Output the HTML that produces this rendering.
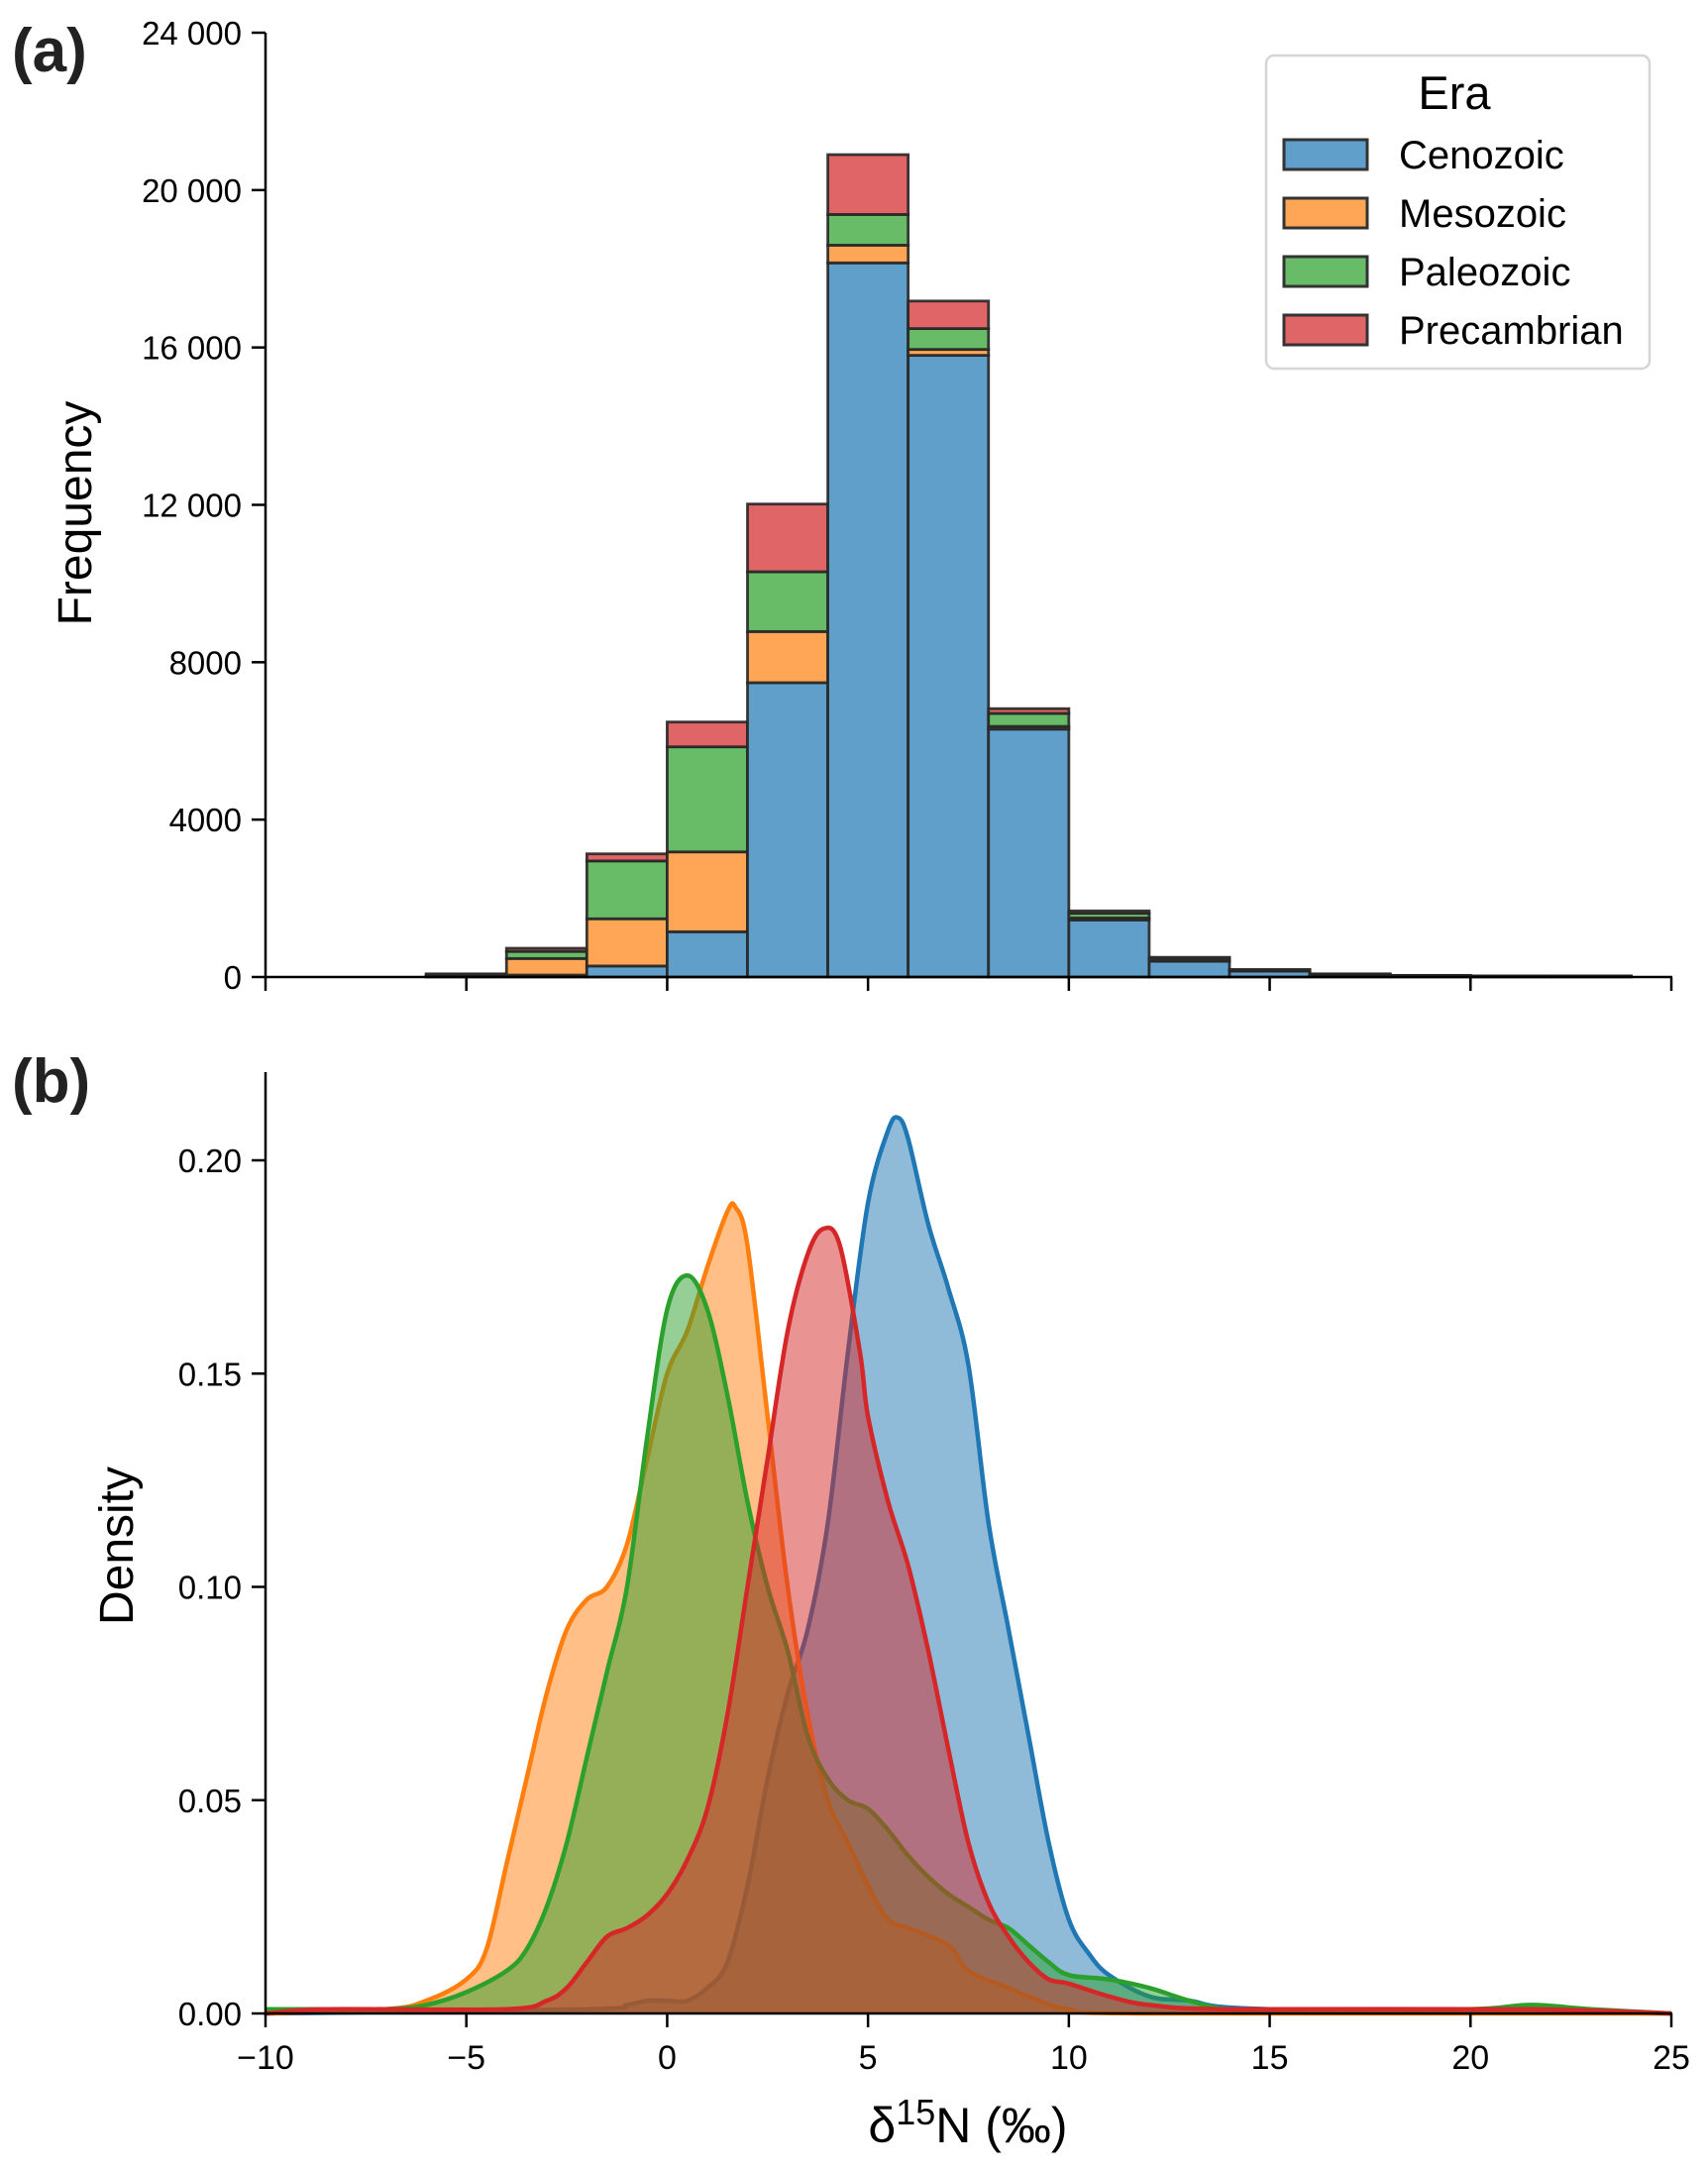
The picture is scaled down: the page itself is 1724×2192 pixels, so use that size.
<!DOCTYPE html>
<html><head><meta charset="utf-8"><style>
html,body{margin:0;padding:0;background:#fff}
svg{display:block;font-family:"Liberation Sans",sans-serif}
</style></head><body>
<svg id="chart" width="1724" height="2192" viewBox="0 0 1724 2192" xmlns="http://www.w3.org/2000/svg">
<g id="topPanel"></g>
<g id="botPanel"></g>
</svg>
<script>
const eras = ["Cenozoic","Mesozoic","Paleozoic","Precambrian"];
const binStarts = [-6,-4,-2,0,2,4,6,8,10,12,14,16,18,20,22];
const cenozoicCounts   = [20,50,280,1150,7480,18150,15800,6300,1450,400,150,60,30,20,20];
const mesozoicCounts   = [20,420,1200,2030,1300,450,150,70,50,20,10,5,3,2,2];
const paleozoicCounts  = [20,180,1470,2670,1520,780,530,330,120,60,20,10,5,3,3];
const precambrianCounts= [20,80,180,630,1720,1520,700,120,60,20,10,5,3,2,2];
const freqTicks = [0,4000,8000,12000,16000,20000,24000];
const freqTickLabels = ["0","4000","8000","12 000","16 000","20 000","24 000"];
const xTicks = [-10,-5,0,5,10,15,20,25];
const xTickLabels = ["\u221210","\u22125","0","5","10","15","20","25"];
const densTicks = [0,0.05,0.10,0.15,0.20];
const densTickLabels = ["0.00","0.05","0.10","0.15","0.20"];
const cenoX = [-10,-2,-1,-0.5,0,0.5,1,1.5,2,2.5,3,3.5,4,4.5,5,5.5,5.75,6,6.5,7,7.5,8,8.5,9,9.5,10,10.5,11,12,13,15,25];
const cenoY = [0,0.001,0.002,0.003,0.003,0.003,0.006,0.012,0.03,0.055,0.075,0.09,0.115,0.155,0.19,0.207,0.21,0.205,0.185,0.17,0.152,0.115,0.09,0.065,0.04,0.022,0.014,0.009,0.004,0.003,0.001,0];
const mesoX = [-10,-7,-6,-5,-4.5,-4,-3.5,-3,-2.5,-2,-1.5,-1,-0.5,0,0.5,1,1.5,1.7,2,2.5,3,3.5,4,4.5,5,5.5,6,7,7.5,8.5,9,10,12,25];
const mesoY = [0,0.001,0.003,0.008,0.015,0.035,0.055,0.075,0.09,0.097,0.1,0.11,0.13,0.15,0.16,0.175,0.188,0.189,0.18,0.14,0.1,0.07,0.05,0.04,0.03,0.022,0.02,0.016,0.01,0.006,0.004,0.001,0,0];
const paleoX = [-10,-8.5,-7,-6,-5,-4,-3.5,-3,-2.5,-2,-1.5,-1,-0.5,0,0.5,1,1.5,2,2.5,3,3.5,4,4.5,5,5.5,6,6.5,7,7.5,8,8.5,9,9.5,10,11,12,13,14,16,20,21.5,23,25];
const paleoY = [0.001,0.001,0.001,0.002,0.005,0.01,0.015,0.025,0.04,0.06,0.08,0.1,0.135,0.165,0.173,0.165,0.145,0.12,0.1,0.085,0.065,0.055,0.05,0.048,0.043,0.037,0.032,0.028,0.025,0.022,0.02,0.016,0.012,0.009,0.008,0.006,0.003,0.001,0.001,0.001,0.002,0.001,0];
const preX = [-10,-8.5,-4,-3,-2.5,-2,-1.5,-1,-0.5,0,0.5,1,1.5,2,2.5,3,3.5,3.9,4.3,4.8,5,5.5,6,6.5,7,7.5,8,8.5,9,9.5,10,11,12,14,21.5,25];
const preY = [0,0.001,0.001,0.003,0.006,0.012,0.018,0.02,0.023,0.028,0.036,0.048,0.07,0.1,0.13,0.16,0.178,0.184,0.18,0.155,0.14,0.12,0.105,0.085,0.062,0.04,0.026,0.018,0.012,0.008,0.007,0.004,0.002,0.001,0.001,0];

const NS="http://www.w3.org/2000/svg";
function mk(tag, attrs, parent){const e=document.createElementNS(NS,tag);for(const k in attrs)e.setAttribute(k,attrs[k]);parent.appendChild(e);return e;}
const X0=268, X1=1687;
const xs = v => X0 + (v+10)/35*(X1-X0);
const yTop = v => 986 - v/24000*953;
const yBot = v => 2032 - v/0.2*861;
const topG=document.getElementById('topPanel'), botG=document.getElementById('botPanel');
const fillC=["#619fcb","#ffa556","#68bc67","#e06567"];
const lineC=["#1f77b4","#ff7f0e","#2ca02c","#d62728"];

const series=[cenozoicCounts,mesozoicCounts,paleozoicCounts,precambrianCounts];
binStarts.forEach((b,i)=>{
  let base=0;
  series.forEach((s,j)=>{
    const v=s[i];
    const r=mk('rect',{x:xs(b),y:yTop(base+v),width:xs(b+2)-xs(b),height:yTop(base)-yTop(base+v),fill:fillC[j],stroke:"#262626","stroke-width":2.8,"stroke-opacity":0.9},topG);
    
    
    base+=v;
  });
});
let ax=mk('line',{x1:X0,y1:33,x2:X0,y2:988,stroke:"#000","stroke-width":2.5},topG);


ax=mk('line',{x1:X0-1,y1:986,x2:X1+1,y2:986,stroke:"#000","stroke-width":2.5},topG);


freqTicks.forEach((t,i)=>{
  mk('line',{x1:X0-14,y1:yTop(t),x2:X0,y2:yTop(t),stroke:"#000","stroke-width":2.5},topG);
  const tx=mk('text',{x:X0-24,y:yTop(t)+12,"text-anchor":"end","font-size":33},topG);
  tx.textContent=freqTickLabels[i];
  
  
});
xTicks.forEach(t=>{mk('line',{x1:xs(t),y1:986,x2:xs(t),y2:1000,stroke:"#000","stroke-width":2.5},topG);});
let t=mk('text',{x:0,y:0,transform:"translate(92,518) rotate(-90)","text-anchor":"middle","font-size":48},topG);
t.textContent="Frequency";


t=mk('text',{x:12,y:72,"font-size":62,"font-weight":"bold",fill:"#222"},topG);
t.textContent="(a)";



const lg=mk('g',{},topG);


mk('rect',{x:1278,y:56,width:387,height:316,rx:8,fill:"#fff",stroke:"#d5d5d5","stroke-width":2.5},lg);
t=mk('text',{x:1468,y:110,"text-anchor":"middle","font-size":47},lg);
t.textContent="Era";


eras.forEach((e,j)=>{
  const cy=156+j*59;
  const p=mk('rect',{x:1296,y:cy-15,width:84,height:30,fill:fillC[j],stroke:"#333","stroke-width":3},lg);
  
  
  const lt=mk('text',{x:1412,y:cy+14,"font-size":40},lg);
  lt.textContent=e;
  
  
});

const kx=[cenoX,mesoX,paleoX,preX], ky=[cenoY,mesoY,paleoY,preY];
function smoothPath(j){
  const P=kx[j].map((x,i)=>[xs(x),yBot(ky[j][i])]);
  let d="M"+P[0][0].toFixed(1)+","+P[0][1].toFixed(1);
  for(let i=0;i<P.length-1;i++){
    const p0=P[Math.max(0,i-1)],p1=P[i],p2=P[i+1],p3=P[Math.min(P.length-1,i+2)];
    const c1=[p1[0]+(p2[0]-p0[0])/6,p1[1]+(p2[1]-p0[1])/6];
    const c2=[p2[0]-(p3[0]-p1[0])/6,p2[1]-(p3[1]-p1[1])/6];
    c1[1]=Math.min(c1[1],yBot(0));c2[1]=Math.min(c2[1],yBot(0));
    d+=" C"+c1[0].toFixed(1)+","+c1[1].toFixed(1)+" "+c2[0].toFixed(1)+","+c2[1].toFixed(1)+" "+p2[0].toFixed(1)+","+p2[1].toFixed(1);
  }
  return d;
}
for(let j=0;j<4;j++){
  const d=smoothPath(j);
  const last=xs(kx[j][kx[j].length-1]), first=xs(kx[j][0]);
  const poly=mk('path',{d:d+" L"+last+","+yBot(0)+" L"+first+","+yBot(0)+"Z",fill:lineC[j],"fill-opacity":0.5,stroke:"none"},botG);
  
  
  const ln=mk('path',{d:d,fill:"none",stroke:lineC[j],"stroke-width":4.5,"stroke-linejoin":"round"},botG);
  
  
}
ax=mk('line',{x1:X0,y1:1082,x2:X0,y2:2034,stroke:"#000","stroke-width":2.5},botG);


ax=mk('line',{x1:X0-1,y1:2032,x2:X1+1,y2:2032,stroke:"#000","stroke-width":2.5},botG);


densTicks.forEach((v,i)=>{
  mk('line',{x1:X0-14,y1:yBot(v),x2:X0,y2:yBot(v),stroke:"#000","stroke-width":2.5},botG);
  const tx=mk('text',{x:X0-24,y:yBot(v)+12,"text-anchor":"end","font-size":33},botG);
  tx.textContent=densTickLabels[i];
  
  
});
xTicks.forEach((v,i)=>{
  mk('line',{x1:xs(v),y1:2032,x2:xs(v),y2:2046,stroke:"#000","stroke-width":2.5},botG);
  const tx=mk('text',{x:xs(v),y:2088,"text-anchor":"middle","font-size":34},botG);
  tx.textContent=xTickLabels[i];
  
  
});
t=mk('text',{x:0,y:0,transform:"translate(134,1560) rotate(-90)","text-anchor":"middle","font-size":48},botG);
t.textContent="Density";


t=mk('text',{x:977,y:2162,"text-anchor":"middle","font-size":50},botG);
t.innerHTML='δ<tspan dy="-18" font-size="36">15</tspan><tspan dy="18">N (‰)</tspan>';


t=mk('text',{x:12,y:1112,"font-size":62,"font-weight":"bold",fill:"#222"},botG);
t.textContent="(b)";


</script>
</body></html>
